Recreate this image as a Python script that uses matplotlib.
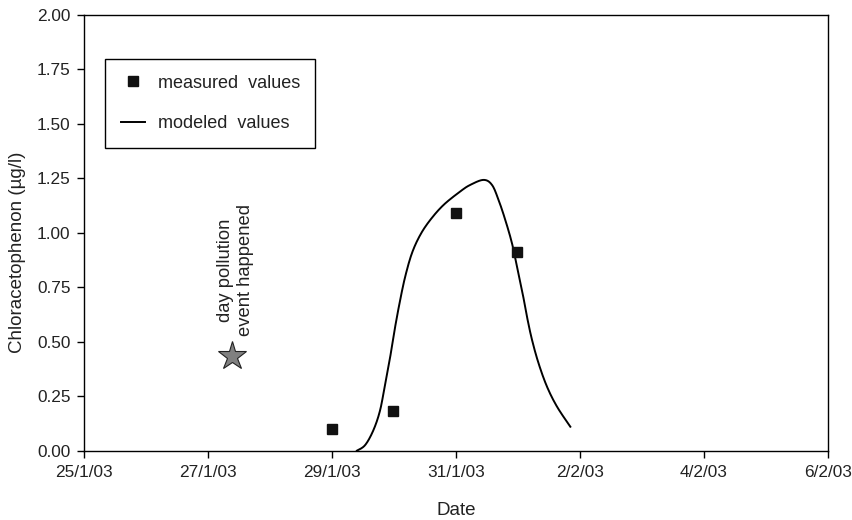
import datetime as dt
import numpy as np
import matplotlib
matplotlib.use('Agg')
import matplotlib.pyplot as plt
import matplotlib.dates as mdates
from matplotlib.ticker import FuncFormatter, MultipleLocator

plt.rcParams['font.family'] = ['Liberation Sans', 'DejaVu Sans']

start = dt.datetime(2003, 1, 25)

# measured values: days after 25/1/03, concentration (ug/l)
meas_days = [4.0, 4.99, 6.0, 6.985]
meas_vals = [0.10, 0.18, 1.09, 0.91]

# modeled curve
mod_days = [4.401, 4.535, 4.669, 4.777, 4.858, 4.939, 5.019, 5.100, 5.181, 5.289,
            5.423, 5.585, 5.800, 6.070, 6.231, 6.446, 6.582, 6.688, 6.797, 6.905,
            6.985, 7.066, 7.147, 7.228, 7.334, 7.470, 7.632, 7.847]
mod_vals = [0.0, 0.026, 0.095, 0.187, 0.309, 0.431, 0.569, 0.692, 0.799, 0.906,
            0.990, 1.059, 1.128, 1.190, 1.220, 1.243, 1.220, 1.151, 1.059, 0.952,
            0.845, 0.738, 0.615, 0.509, 0.401, 0.294, 0.202, 0.110]

# pollution event
event_day = 2.38
event_val = 0.435

TXT = '#222222'


def to_dates(days):
    return [start + dt.timedelta(days=float(d)) for d in days]


def catmull(x, y, n=20):
    # smooth line through the read points
    p = np.column_stack([x, y])
    p = np.vstack([p[0], p, p[-1]])
    out = []
    for i in range(1, len(p) - 2):
        p0, p1, p2, p3 = p[i - 1], p[i], p[i + 1], p[i + 2]
        for t in np.linspace(0, 1, n, endpoint=False):
            out.append(0.5 * (2 * p1 + (-p0 + p2) * t
                              + (2 * p0 - 5 * p1 + 4 * p2 - p3) * t ** 2
                              + (-p0 + 3 * p1 - 3 * p2 + p3) * t ** 3))
    out.append(p[-2])
    out = np.array(out)
    return out[:, 0], out[:, 1]


fig = plt.figure(figsize=(8.53, 5.2), dpi=100)
ax = fig.add_axes([0.0988, 0.1333, 0.8714, 0.8379])

xs, ys = catmull(mod_days, mod_vals)
line, = ax.plot(to_dates(xs), ys, color='black', lw=1.4, label='modeled  values')
pts, = ax.plot(to_dates(meas_days), meas_vals, ls='none', marker='s', ms=7.5,
               color='#111111', label='measured  values')
ax.plot(to_dates([event_day]), [event_val], ls='none', marker='*', ms=21,
        markerfacecolor='#808080', markeredgecolor='#222222', markeredgewidth=0.8)
ax.text(start + dt.timedelta(days=2.44), 0.83, 'day pollution\nevent happened',
        rotation=90, ha='center', va='center', fontsize=13.2, color=TXT,
        linespacing=1.25)

ax.set_xlim(start, start + dt.timedelta(days=12))
ax.set_ylim(0, 2)
ax.xaxis.set_major_locator(mdates.DayLocator(interval=2))
ax.xaxis.set_major_formatter(FuncFormatter(
    lambda v, p: '%d/%d/%s' % (mdates.num2date(v).day, mdates.num2date(v).month,
                               mdates.num2date(v).strftime('%y'))))
ax.yaxis.set_major_locator(MultipleLocator(0.25))
ax.yaxis.set_major_formatter(FuncFormatter(lambda v, p: '%.2f' % v))

for s in ax.spines.values():
    s.set_linewidth(1.0)
ax.tick_params(direction='out', length=5, width=1, labelsize=12.4,
               labelcolor=TXT, pad=5)

ax.set_xlabel('Date', fontsize=13.5, color=TXT, labelpad=16)
ax.set_ylabel('Chloracetophenon (\u00b5g/l)', fontsize=13.5, color=TXT)
ax.yaxis.set_label_coords(-0.079, 0.456)

leg = ax.legend(handles=[pts, line], loc='upper left', bbox_to_anchor=(0.0283, 0.898),
                borderaxespad=0, fancybox=False, framealpha=1, edgecolor='black',
                fontsize=13, handlelength=1.35, labelspacing=1.3, borderpad=0.85,
                handletextpad=0.7)
leg.get_frame().set_linewidth(1.0)
for txt in leg.get_texts():
    txt.set_color(TXT)

fig.savefig('out.png', dpi=100)
